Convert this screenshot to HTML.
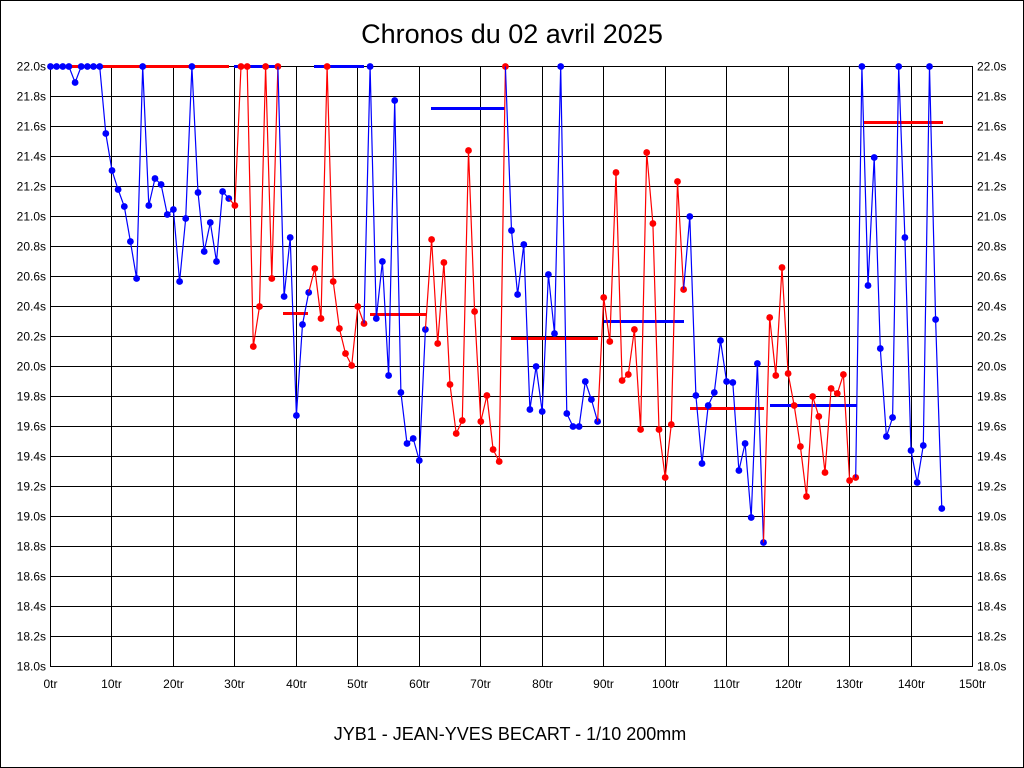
<!DOCTYPE html>
<html><head><meta charset="utf-8"><style>
html,body{margin:0;padding:0;background:#fff}
svg{display:block}
text{font-family:"Liberation Sans",sans-serif}
</style></head><body>
<svg id="s" width="1024" height="768" xmlns="http://www.w3.org/2000/svg">
<rect x="0.5" y="0.5" width="1023" height="767" fill="#fff" stroke="#000"/>
<text x="512" y="43" font-size="27" text-anchor="middle">Chronos du 02 avril 2025</text>
<text x="510" y="740" font-size="18" text-anchor="middle">JYB1 - JEAN-YVES BECART - 1/10 200mm</text>
<g id="g"></g>
</svg>
<script>
var g=document.getElementById('g'),h='';
var X0=50,X1=972,Y0=66,Y1=666,dx=(X1-X0)/150;
for(var i=0;i<=15;i++){var x=Math.round(X0+i*10*dx)+0.5;h+='<line x1="'+x+'" y1="'+Y0+'" x2="'+x+'" y2="'+(Y1+1)+'" stroke="#000" shape-rendering="crispEdges"/>';
h+='<text x="'+x+'" y="'+(Y1+22)+'" font-size="12" text-anchor="middle">'+(i*10)+'tr</text>';}
for(var j=0;j<=20;j++){var y=Y0+j*30+0.5,v=(22-j*0.2).toFixed(1)+'s';h+='<line x1="'+X0+'" y1="'+y+'" x2="'+(X1+1)+'" y2="'+y+'" stroke="#000" shape-rendering="crispEdges"/>';
h+='<text x="'+(X0-4)+'" y="'+(y+4)+'" font-size="12" text-anchor="end">'+v+'</text>';
h+='<text x="'+(X1+5)+'" y="'+(y+4)+'" font-size="12">'+v+'</text>';}
var Y=[66,66,66,66,82,66,66,66,66,133,170,189,206,241,278,66,205,178,184,214,209,281,218,66,192,251,222,261,191,198,
205,66,66,346,306,66,278,66,
296,237,415,324,292,
268,318,66,281,328,353,365,306,323,
66,318,261,375,100,392,443,438,460,329,
239,343,262,384,433,420,150,311,421,395,449,461,66,
230,294,244,409,366,411,274,333,66,413,426,426,381,399,421,
297,341,172,380,374,329,429,152,223,429,477,424,181,289,
216,395,463,405,392,340,381,382,470,443,517,363,542,
317,375,267,373,405,446,496,396,416,472,388,393,374,480,477,
66,285,157,348,436,417,66,237,450,482,445,66,319,508];
var blocks=[[0,29,'#00f'],[30,37,'#f00'],[38,42,'#00f'],[43,51,'#f00'],[52,61,'#00f'],[62,74,'#f00'],[75,89,'#00f'],[90,103,'#f00'],[104,116,'#00f'],[117,131,'#f00'],[132,145,'#00f']];
function px(i){return X0+0.5+i*dx;}
var means=[[68,229,66,'#f00'],[234,278,66,'#00f'],[283,308,313,'#f00'],[314,364,66,'#00f'],[370,426,314,'#f00'],[431,505,108,'#00f'],[511,598,338,'#f00'],[604,684,321,'#00f'],[690,764,408,'#f00'],[770,857,405,'#00f'],[863,943,122,'#f00']];
means.forEach(function(m){h+='<line x1="'+m[0]+'" y1="'+(m[2]+0.5)+'" x2="'+m[1]+'" y2="'+(m[2]+0.5)+'" stroke="'+m[3]+'" stroke-width="3"/>';});
blocks.forEach(function(b){var s=b[0]>0?b[0]-1:0,p='';
for(var i=s;i<=b[1];i++)p+=px(i).toFixed(1)+','+(Y[i]+0.5)+' ';
h+='<polyline points="'+p+'" fill="none" stroke="'+b[2]+'" stroke-width="1.2"/>';
for(var i=b[0];i<=b[1];i++)h+='<circle cx="'+px(i).toFixed(1)+'" cy="'+(Y[i]+0.5)+'" r="3.4" fill="'+b[2]+'"/>';});
g.innerHTML=h;
</script>
</body></html>
